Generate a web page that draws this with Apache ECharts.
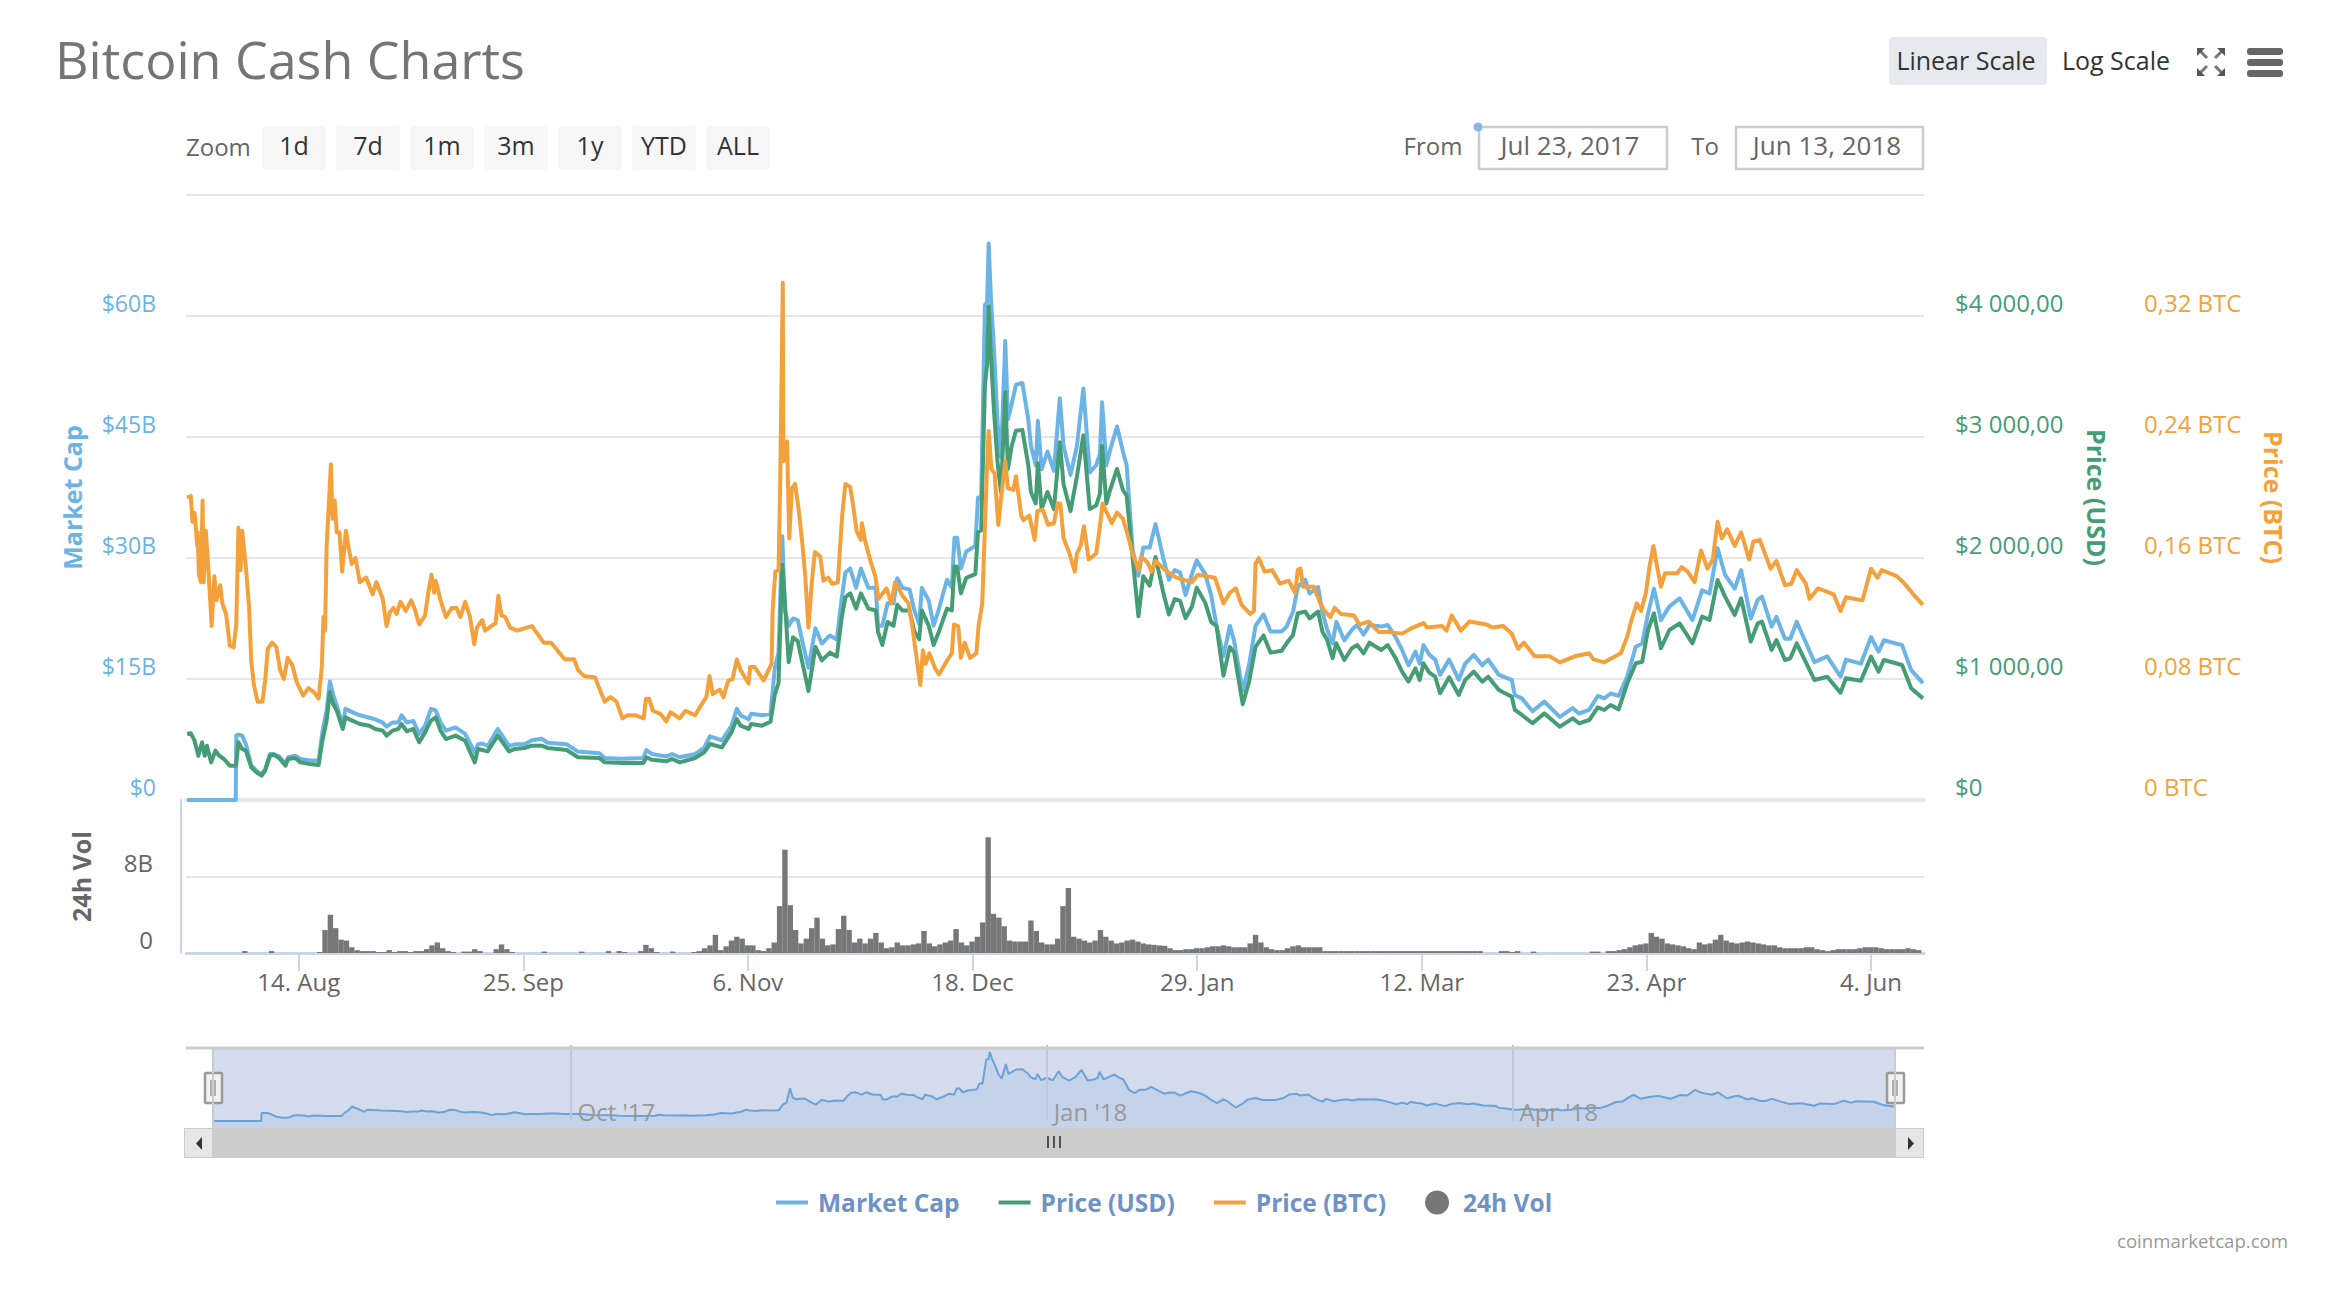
<!DOCTYPE html>
<html><head><meta charset="utf-8"><title>Bitcoin Cash Charts</title>
<style>html,body{margin:0;padding:0;background:#fff}#c{width:2340px;height:1300px}</style>
<script src="https://cdn.jsdelivr.net/npm/echarts@6/dist/echarts.min.js"></script></head>
<body><div id="c"></div>
<script>
const START = Date.UTC(2017,6,23,22);
const DAY = 86400000;
const SPAN_DAYS = 325;
const seriesNames = ['Market Cap','Price (USD)','Price (BTC)','24h Vol'];
const tickDates = ['2017-08-14','2017-09-25','2017-11-06','2017-12-18','2018-01-29','2018-03-12','2018-04-23','2018-06-04'];
const tickLabels = ['14. Aug','25. Sep','6. Nov','18. Dec','29. Jan','12. Mar','23. Apr','4. Jun'];
const navDates = ['2017-10-01','2018-01-01','2018-04-01'];
const navLabels = ["Oct '17","Jan '18","Apr '18"];
const zoomButtons = ['1d','7d','1m','3m','1y','YTD','ALL'];

// days since the left edge of the axis, shared by market cap and USD price
const capDays = [
.2,.9,1.6,2.3,3,3.5,3.9,4.7,5.5,6.2,
7.1,8.2,9.3,9.4,9.8,10.5,11.2,12.2,13.2,14.1,
14.8,15.7,16.4,17.4,18.6,19.1,20.4,21.4,23.2,24.8,
25.5,26.3,26.9,27.5,28.2,29.3,29.8,31.1,32.5,34.3,
35.4,36.8,37.5,38.6,39.7,40.3,41.3,42.5,43.6,44.7,
45.8,46.7,47.6,48.6,50.4,52.2,54,54.6,55.4,56.4,
58.3,60.4,61.5,63.3,64.7,66.5,67.6,71.2,73.3,77.3,
78.3,81.6,85.5,86.1,87.1,89.8,90.9,92.3,95.2,96.9,
98,100.2,102,103,103.7,105.2,105.7,107.7,109.3,110.1,
110.8,111.5,112,112.7,113.5,114.4,115.4,116.4,117.7,118.9,
120.4,121.7,122.6,123.3,124.2,125.3,126.2,127.6,129,129.4,
130.2,131.2,132.3,133,134,135.3,136.2,137.1,137.6,138.9,
139.8,140.8,142.3,143.2,143.7,144.2,144.9,145.9,147.6,148.1,
148.7,149.4,149.8,150.1,150.5,151.1,151.8,152.4,153.2,153.7,
154.4,155.2,156.4,157.5,158,158.9,159.3,160,161.1,162.3,
163.4,164.1,165.4,166.6,167.8,169,170.2,170.9,171.3,172.1,
172.8,174.1,175.2,175.9,177,178.1,179,180.2,181.3,182.7,
183.8,184.9,185.9,186.9,188.1,189,190.6,191.7,192.7,194,
195.2,196,197.6,198.8,200,201.5,202.8,204.9,205.8,207,
207.9,209.3,210.1,211.7,212.5,213.4,214.4,215.1,216.6,218,
219,220.2,221.3,223.5,224.7,226.2,227.4,228.6,229.9,230.7,
231.4,232.5,233.6,234.5,236.2,238,239.2,240.8,242.4,243.5,
245.5,247.9,248.5,249.8,251.8,254,256.9,259.3,260.5,262.4,
264,265.2,266.4,267.9,269.5,271.1,272.3,273.4,274.5,275.8,
277.4,279.3,281.7,283.5,284.9,286.4,287.8,289.6,290.8,292.6,
293.9,294.7,296.5,297.4,299,300,301.2,304.5,306.9,309.4,
310.4,313.2,315.1,316.5,317.5,320.9,322.6,324.8];
// market cap, billions of USD
const marketCap = [
0,0,0,0,0,0,0,0,0,0,
0,0,0,8,8.1,8,6.9,4.3,3.6,3.2,
3.8,5.7,5.7,5.4,4.5,5.3,5.5,5.1,4.9,4.9,
8.4,11.1,14.7,13.1,11.7,9.2,11.3,10.9,10.5,10.2,
10,9.6,9.1,9.6,9.6,10.5,9.6,9.8,8.2,9.2,
11.3,11.1,9.6,8.6,9,8.2,5.9,6.9,7,6.7,
8.8,6.7,6.9,6.9,7.4,7.6,7.1,6.9,6,5.8,
5.2,5.1,5.2,6.2,5.7,5.4,5.7,5.3,5.7,6.5,
7.9,7.4,9.2,11.3,10.5,10,10.7,10.5,10.7,16.3,
18.3,32.7,23.5,21.6,22.5,22.3,19.2,16.4,21.3,19.4,
20.4,19.9,24.9,28.2,28.7,26.3,28.7,26.3,26.3,21.6,
21.6,24.4,24.4,27.5,26.3,26.1,23.5,21.8,26.3,24.7,
21.6,23.7,27.3,26.3,32.5,32.5,28.7,30.8,31.5,37.5,
37.5,61.4,61.7,69,62.4,55.7,46.3,42.5,56.9,47.2,
49.1,51.5,51.7,47.2,43.9,41.5,47,41,43.2,40.8,
49.8,43.9,40.3,43.9,51,40.6,41.5,42.9,49.3,41.5,
43.4,46.3,43.2,41.5,31.1,27.8,31.3,31.3,34.2,30.1,
27.3,28.5,28.2,25.4,28,29.7,28,25.4,21.6,17.8,
21.6,19.7,13.5,16.8,21.6,23,20.9,20.9,21.5,23.3,
26.4,27.3,25.6,26.4,23.3,21.1,19.4,22.1,19.8,21.1,
21.7,20.5,21.7,21.5,21.7,20.2,18.6,16.7,18.4,16.9,
19.2,18,17.4,15.5,17.4,14.9,16.9,18,16.7,17.4,
15.5,14.9,13,12.6,11,12.2,10.3,11.4,10.7,11.2,
12.9,12.6,13.2,12.9,15.3,19,19.4,23.1,26.2,22.3,
24,25,22.3,26,25.6,31.2,27.9,26.2,28.5,22.5,
24.8,25.2,21.5,22.7,20,20,22.1,17.1,17.8,15.3,
17.4,16.9,20.2,18.4,19.8,19.2,16.1,14.5];
// price in USD
const priceUsd = [
545,551,490,366,477,366,449,311,408,366,
339,284,284,300,477,422,408,270,229,201,
242,366,375,347,284,339,347,311,298,289,
490,656,890,793,738,587,683,656,628,614,
587,573,532,573,587,628,568,587,477,559,
656,683,573,504,532,490,311,422,413,402,
532,402,422,430,449,449,430,413,353,347,
311,306,306,353,333,320,339,311,347,394,
463,435,559,669,614,587,628,614,648,870,
965,1945,1629,1139,1344,1313,1107,901,1265,1154,
1218,1186,1502,1676,1708,1582,1708,1582,1566,1392,
1281,1471,1439,1613,1566,1566,1392,1328,1566,1439,
1281,1392,1582,1566,1929,1929,1708,1835,1866,2214,
2230,3432,3600,4080,3685,3210,2768,2546,3369,2736,
2926,3052,3059,2768,2546,2451,2783,2404,2546,2404,
2957,2609,2388,2673,3014,2404,2435,2530,2926,2451,
2562,2736,2562,2515,2009,1518,1850,1771,2009,1724,
1534,1661,1645,1502,1597,1755,1629,1471,1439,1028,
1265,1218,791,980,1265,1360,1218,1234,1295,1364,
1543,1557,1501,1557,1391,1322,1171,1295,1157,1254,
1281,1212,1300,1240,1281,1171,1061,978,1088,992,
1130,1052,1019,882,1014,868,992,1061,978,1019,
909,854,744,703,634,716,606,675,634,661,
766,744,785,749,964,1130,1143,1405,1543,1254,
1405,1460,1295,1515,1488,1818,1681,1529,1667,1309,
1460,1474,1240,1322,1157,1171,1295,992,1019,887,
1006,986,1185,1061,1157,1116,923,840];
const btcDays = [
.2,.9,1.2,1.6,2.1,2.2,2.4,2.8,3.1,3.3,3.7,4.2,4.8,5.3,5.7,6.4,6.8,7.5,8.2,8.9,
9.4,9.8,10.2,10.5,11.2,11.8,12.2,12.7,13.4,14.3,14.8,15.3,16.1,16.9,17.6,18.3,19,19.9,20.7,21.9,
22.9,24,24.8,25.4,25.7,26,26.3,27.1,27.4,27.8,28.2,28.7,29.2,29.9,30.4,31,31.7,32.5,33.7,34.9,
35.6,36.8,37.5,38.1,38.8,39.4,40.1,41.1,42.1,42.7,43.6,44.7,45.3,45.9,46.4,46.7,47.6,48.6,49.7,50.6,
51.3,52.2,53.1,53.9,54.4,55.4,55.9,57.9,58.4,59,59.7,60.6,61.9,63.7,64.7,66.9,68.3,70.8,72.6,73.3,
74.4,76.5,77.6,78.3,79.4,80.5,81.6,82.6,84.1,85.6,86,86.6,87.3,88.7,89.8,90.6,92.3,93.4,95.2,96.2,
97.3,97.9,98.5,99.8,100.5,101.4,102.2,103,103.7,105.2,105.5,106.3,108,109.5,109.7,110.2,110.8,111.1,111.6,111.7,
112.4,112.8,113.3,113.9,114.6,115.3,115.8,116.4,117,117.6,118.6,119.2,120.1,120.8,121.9,122.2,122.7,123.3,124.2,124.7,
125.4,126.2,126.4,127,128,128.9,129.5,131,131.9,132.6,134,135.1,135.8,136.5,137.3,137.8,138.3,139,140.1,140.8,
142.3,143.2,143.6,144.4,144.9,145.6,146.6,147.8,148.2,148.9,149.4,149.8,150.1,150.6,151.2,151.9,152.4,153.2,153.7,154.7,
155.2,156.2,156.6,157.7,158.7,159.2,160.2,161.2,162.3,163,163.5,164.1,165.2,166.2,166.6,167.3,167.9,168.8,170.2,170.9,
171.4,173.1,174.1,175.2,176.1,177,178.1,178.6,179.8,180.6,181.3,183.1,185.2,188.1,189.2,192.4,194,195.2,196.3,197.4,
199,199.7,200,200.6,201.7,203.1,204.6,206.2,207.4,207.9,208.4,208.9,210.9,212.1,212.9,214,214.8,216,218.4,219.4,
221.1,223.1,225.1,227.4,229.4,231.4,232.1,234.9,235.7,236.7,238.4,240,243.2,244.3,246.3,247.9,249.1,250.2,252.2,255,
256.9,259.7,262.4,263.2,265.2,268.3,269.5,270.3,271.3,272.1,273,273.7,274.4,274.9,275.8,276.6,278.9,279.7,280.8,282.1,
283.3,284.5,285.5,286.4,287.2,288.2,289.6,290.8,292.3,293.1,294.3,296.3,297.4,299,300.2,301.2,302.9,303.6,305.2,308.1,
309.4,310.4,313.5,315.1,316.3,317.1,319.9,321.4,323,324.8];
const priceBtc = [
.2,.201,.184,.19,.168,.177,.149,.144,.198,.144,.178,.152,.115,.148,.132,.142,.13,.123,.102,.101,
.116,.18,.152,.178,.154,.127,.092,.076,.065,.065,.079,.1,.104,.101,.086,.08,.094,.089,.078,.069,
.074,.071,.067,.088,.121,.112,.168,.222,.186,.198,.177,.177,.151,.178,.167,.156,.16,.144,.147,.136,
.144,.133,.115,.124,.127,.123,.131,.125,.132,.127,.116,.122,.137,.149,.137,.145,.132,.121,.127,.127,
.121,.131,.121,.103,.114,.119,.112,.117,.135,.122,.121,.114,.112,.114,.115,.104,.104,.093,.093,.086,
.082,.081,.071,.065,.068,.065,.054,.056,.056,.054,.067,.067,.059,.057,.052,.058,.054,.059,.056,.062,
.068,.082,.07,.073,.068,.079,.08,.093,.086,.077,.088,.088,.079,.09,.125,.151,.152,.206,.342,.224,
.237,.173,.206,.209,.191,.168,.148,.114,.143,.164,.161,.145,.147,.143,.144,.161,.188,.209,.207,.196,
.178,.172,.183,.171,.158,.148,.133,.14,.13,.144,.135,.13,.115,.097,.076,.099,.09,.097,.087,.083,
.092,.097,.116,.115,.094,.104,.094,.097,.115,.13,.181,.221,.244,.219,.216,.182,.199,.224,.206,.205,
.214,.188,.185,.188,.172,.191,.192,.182,.183,.196,.196,.173,.163,.151,.163,.168,.181,.159,.163,.181,
.196,.183,.19,.186,.175,.163,.152,.161,.157,.151,.158,.152,.147,.144,.149,.147,.13,.137,.14,.129,
.123,.125,.156,.16,.151,.152,.143,.145,.137,.152,.153,.141,.141,.13,.125,.121,.127,.123,.122,.116,
.118,.111,.111,.11,.114,.117,.114,.115,.112,.122,.112,.118,.116,.114,.115,.11,.1,.104,.095,.095,
.091,.095,.097,.093,.091,.097,.108,.119,.13,.125,.137,.155,.168,.158,.141,.15,.15,.154,.151,.144,
.165,.153,.159,.184,.173,.179,.168,.177,.159,.171,.172,.153,.158,.142,.143,.152,.143,.133,.14,.136,
.125,.134,.132,.153,.147,.152,.148,.143,.136,.129];
// 24h volume, billions of USD, one value per day from the axis start
const volume = [
0,0,0,0,0,0,0,0,0,0,0,.2,0,0,0,0,.2,0,0,0,
0,0,0,0,0,.1,2.4,4,2.6,1.4,1.3,.6,.3,.2,.2,.2,.1,.1,.3,.1,
.2,.2,.1,.2,.2,.4,.8,1.1,.5,.2,.1,0,.15,.15,.4,.2,0,0,.4,.9,
.4,.1,0,0,0,0,0,.15,0,0,0,0,0,0,.15,0,0,0,0,.2,
0,.2,.1,0,0,.2,.85,.5,.1,0,0,.15,0,0,0,.1,.2,.5,.8,1.9,
.3,.7,1.3,1.7,1.5,.8,.8,.3,.2,.5,1.1,4.9,10.8,5,2.4,1,1.5,2.6,3.7,1.5,
.8,.9,2.5,3.9,2.4,1.1,1.5,1,1.5,2.1,1.1,.5,.6,1.1,.8,.8,.9,1,2.3,1,
.7,.9,1.1,1.3,2.5,1.1,.8,1.2,1.7,3.2,12.1,4.1,3.7,2.8,1.3,1.2,1.2,1.2,3.4,2.3,
1.1,.9,.9,1.5,4.9,6.8,1.7,1.5,1.3,1.1,1.3,2.4,1.7,1.3,1,1.1,1.3,1.4,1.2,1,
.9,.85,.8,.75,.5,.3,.3,.4,.4,.5,.5,.6,.7,.7,.8,.7,.6,.6,.6,1,
1.9,1.1,.6,.4,.3,.3,.5,.7,.8,.6,.6,.6,.6,.2,.2,.2,.2,.2,.2,.2,
.2,.2,.2,.2,.2,.2,.2,.2,.2,.2,.2,.2,.2,.2,.2,.2,.2,.2,.2,.2,
.2,.2,.2,0,0,0,.2,.2,.1,.2,0,0,.15,0,0,0,0,0,0,0,
0,0,0,.15,.15,0,.2,.2,.3,.4,.6,.8,.9,1,2.1,1.7,1.5,1,.9,.8,
.7,.5,.4,1.1,.9,1,1.4,1.9,1.3,1.1,1,1.1,1.2,1.1,1,.9,.8,.8,.6,.5,
.5,.5,.5,.6,.6,.4,.3,.2,.3,.4,.4,.4,.4,.5,.6,.6,.6,.5,.4,.4,
.4,.4,.5,.4,.3];

const zip = (days, vals) => vals.map((v, i) => [days[i], v]);
const toDay = s => (Date.parse(s + 'T00:00:00Z') - START) / DAY;
const tickValues = tickDates.map(toDay);
const navValues = navDates.map(toDay);
const labelAt = (vals, labels) => v => { const i = vals.findIndex(t => Math.abs(t - v) < 1e-6); return i < 0 ? '' : labels[i]; };
const C = {cap:'#6cb3e6', usd:'#459d76', btc:'#f4a13c', vol:'#777777', grid:'#e6e6e6', axis:'#ccd6eb'};
const FONT = '"Open Sans"';
const LINE_ICON = 'path://M0 0H32V4H0Z';
const fmtUsd = v => v === 0 ? '$0' : '$' + Math.round(v/1000) + ' 000,00';
const fmtBtc = v => v === 0 ? '0 BTC' : v.toFixed(2).replace('.', ',') + ' BTC';

function txt(text, x, y, size, fill, align, weight) {
  return {type:'text', x, y, z:20, style:{text, font:(weight||'normal')+' '+size+'px '+FONT, fill, align:align||'center', verticalAlign:'middle'}};
}
function box(x, y, w, h, fill, r, stroke, lw) {
  return {type:'rect', z:10, shape:{x, y, width:w, height:h, r:r||0}, style:{fill, stroke:stroke||null, lineWidth:lw||0}};
}
function seg(x1, y1, x2, y2, stroke, lw) {
  return {type:'line', z:15, shape:{x1, y1, x2, y2}, style:{stroke, lineWidth:lw}};
}
function poly(points, fill) {
  return {type:'polygon', z:15, shape:{points}, style:{fill}};
}
const chrome = [
  txt('Bitcoin Cash Charts', 55, 58, 52, '#757575', 'left'),
  txt('Zoom', 186, 146, 24, '#666666', 'left'),
  box(1889, 37, 158, 48, '#e6e9ee', 4),
  txt('Linear Scale', 1966, 60, 25, '#333333'),
  txt('Log Scale', 2116, 60, 25, '#333333'),
  box(2247, 48, 36, 7, '#666666', 3), box(2247, 59, 36, 7, '#666666', 3), box(2247, 70, 36, 7, '#666666', 3),
  seg(2198,49,2207,58,'#777',3), seg(2224,49,2215,58,'#777',3), seg(2198,75,2207,66,'#777',3), seg(2224,75,2215,66,'#777',3),
  poly([[2197,48],[2205,48],[2197,56]],'#555'), poly([[2225,48],[2217,48],[2225,56]],'#555'),
  poly([[2197,76],[2205,76],[2197,68]],'#555'), poly([[2225,76],[2217,76],[2225,68]],'#555'),
  txt('From', 1433, 145, 24, '#666666'),
  box(1479, 127, 188, 42, '#ffffff', 0, '#cccccc', 2.5),
  txt('Jul 23, 2017', 1570, 145, 26, '#666666'),
  txt('To', 1705, 145, 24, '#666666'),
  box(1736, 127, 187, 42, '#ffffff', 0, '#cccccc', 2.5),
  txt('Jun 13, 2018', 1827, 145, 26, '#666666'),
  {type:'circle', z:16, shape:{cx:1478, cy:127, r:4.5}, style:{fill:'#8ab4ef'}},
  txt('coinmarketcap.com', 2288, 1240, 18.6, '#999999', 'right'),
  // range selector chrome
  seg(186,1048,1924,1048,'#cccccc',3),
  seg(213,1049,213,1128,'#cccccc',2), seg(1895,1049,1895,1128,'#cccccc',2),
  box(184,1128,1740,30,'#cccccc'),
  box(185,1129,27,28,'#e6e6e6'), box(1896,1129,27,28,'#e6e6e6'),
  poly([[202,1137],[202,1150],[196,1143.5]],'#333333'), poly([[1908,1137],[1908,1150],[1914,1143.5]],'#333333'),
  seg(1048,1136,1048,1148,'#333333',1.6), seg(1054,1136,1054,1148,'#333333',1.6), seg(1060,1136,1060,1148,'#333333',1.6),
];
zoomButtons.forEach((label, i) => {
  const x = [262,336,410,484,558,632,706][i];
  chrome.push(box(x, 126, 64, 44, '#f7f7f7', 4));
  chrome.push(txt(label, x + 32, 145, 25, '#333333'));
});
[213, 1895].forEach(cx => {
  chrome.push(box(cx-8, 1073, 17, 30, '#f2f2f2', 1, '#999999', 2.5));
  chrome.push(seg(cx-2,1080,cx-2,1096,'#999999',1.5), seg(cx+2,1080,cx+2,1096,'#999999',1.5));
});

const chart = echarts.init(document.getElementById('c'), null, {renderer:'svg', width:2340, height:1300});
chart.setOption({
  animation:false,
  backgroundColor:'#ffffff',
  textStyle:{fontFamily:FONT},
  grid:[
    {left:186, top:195, width:1738, height:605},
    {left:186, top:800, width:1738, height:153},
    {left:213, top:1049, width:1682, height:79, show:true, backgroundColor:'#d4dbec', borderWidth:0},
  ],
  xAxis:[
    {type:'value', gridIndex:0, min:0, max:SPAN_DAYS, axisLabel:{show:false}, axisTick:{show:false}, splitLine:{show:false},
      axisLine:{show:true, lineStyle:{color:C.grid, width:4}}},
    {type:'value', gridIndex:1, min:0, max:SPAN_DAYS, splitLine:{show:false},
      axisLine:{show:true, lineStyle:{color:C.axis, width:3}},
      axisTick:{show:true, length:18, customValues:tickValues, lineStyle:{color:C.axis, width:2}},
      axisLabel:{show:true, customValues:tickValues, margin:16, color:'#666666', fontSize:24, fontFamily:FONT,
        formatter:labelAt(tickValues, tickLabels)}},
    {type:'value', gridIndex:2, min:0, max:SPAN_DAYS, z:10, splitLine:{show:false},
      axisLine:{show:false},
      axisTick:{show:true, inside:true, length:76, customValues:navValues, lineStyle:{color:'#bcc6dc', width:2}},
      axisLabel:{show:true, inside:true, customValues:navValues, margin:5, align:'left', color:'#999999', fontSize:24, fontFamily:FONT,
        padding:[0,0,0,7], formatter:labelAt(navValues, navLabels)}},
  ],
  yAxis:[
    {type:'value', gridIndex:0, min:0, max:75, interval:15, position:'left', name:'Market Cap', nameLocation:'middle', nameGap:102,
      nameTextStyle:{color:C.cap, fontWeight:'bold', fontSize:25, fontFamily:FONT},
      axisLine:{show:false}, axisTick:{show:false},
      splitLine:{show:true, lineStyle:{color:C.grid, width:2}},
      axisLabel:{color:C.cap, fontSize:23, margin:30, verticalAlign:'bottom', padding:[0,0,2,0], showMaxLabel:false, fontFamily:FONT,
        formatter:v => '$' + v + (v ? 'B' : '')}},
    {type:'value', gridIndex:0, min:0, max:5000, interval:1000, position:'right', name:'Price (USD)', nameLocation:'middle', nameGap:160, nameRotate:-90,
      nameTextStyle:{color:C.usd, fontWeight:'bold', fontSize:25, fontFamily:FONT},
      axisLine:{show:false}, axisTick:{show:false}, splitLine:{show:false},
      axisLabel:{color:C.usd, fontSize:24, margin:31, verticalAlign:'bottom', padding:[0,0,2,0], showMaxLabel:false, fontFamily:FONT, formatter:fmtUsd}},
    {type:'value', gridIndex:0, min:0, max:.4, interval:.08, position:'right', offset:189, name:'Price (BTC)', nameLocation:'middle', nameGap:148, nameRotate:-90,
      nameTextStyle:{color:C.btc, fontWeight:'bold', fontSize:25, fontFamily:FONT},
      axisLine:{show:false}, axisTick:{show:false}, splitLine:{show:false},
      axisLabel:{color:C.btc, fontSize:24, margin:31, verticalAlign:'bottom', padding:[0,0,2,0], showMaxLabel:false, fontFamily:FONT, formatter:fmtBtc}},
    {type:'value', gridIndex:1, min:0, max:16, interval:8, position:'left', offset:5, name:'24h Vol', nameLocation:'middle', nameGap:88,
      nameTextStyle:{color:'#666666', fontWeight:'bold', fontSize:25, fontFamily:FONT},
      axisLine:{show:true, onZero:false, lineStyle:{color:C.axis, width:2}}, axisTick:{show:false},
      splitLine:{show:true, lineStyle:{color:C.grid, width:2}},
      axisLabel:{color:'#666666', fontSize:24, margin:28, verticalAlign:'bottom', padding:[0,0,2,0], showMaxLabel:false, fontFamily:FONT,
        formatter:v => v ? v + 'B' : '0'}},
    {type:'value', gridIndex:2, min:-7, max:72, show:false},
  ],
  legend:{
    left:771, top:1185, itemWidth:32, itemHeight:24, itemGap:39,
    selectedMode:false,
    textStyle:{color:'#6f92c6', fontWeight:'bold', fontSize:24.5, fontFamily:FONT, padding:[0,0,0,5]},
    data:[{name:seriesNames[0], icon:LINE_ICON},{name:seriesNames[1], icon:LINE_ICON},{name:seriesNames[2], icon:LINE_ICON},{name:seriesNames[3], icon:'circle'}],
  },
  series:[
    {name:seriesNames[0], type:'line', xAxisIndex:0, yAxisIndex:0, data:zip(capDays, marketCap), symbol:'none', clip:false, z:3, itemStyle:{color:C.cap}, lineStyle:{color:C.cap, width:4, join:'round'}},
    {name:seriesNames[1], type:'line', xAxisIndex:0, yAxisIndex:1, data:zip(capDays, priceUsd), symbol:'none', z:4, itemStyle:{color:C.usd}, lineStyle:{color:C.usd, width:4, join:'round'}},
    {name:seriesNames[2], type:'line', xAxisIndex:0, yAxisIndex:2, data:zip(btcDays, priceBtc), symbol:'none', z:5, itemStyle:{color:C.btc}, lineStyle:{color:C.btc, width:4, join:'round'}},
    {name:seriesNames[3], type:'bar', xAxisIndex:1, yAxisIndex:3, data:volume.map((v,i)=>[i, v]), barWidth:5.4, itemStyle:{color:C.vol}, z:3},
    {name:'Navigator', type:'line', xAxisIndex:2, yAxisIndex:4, data:zip(capDays, marketCap), symbol:'none', z:1, lineStyle:{color:'#6ba2d8', width:2}, itemStyle:{color:'#6ba2d8'}, areaStyle:{color:'#c5d3ea', opacity:1, origin:'start'}},
  ],
  graphic:{elements:chrome},
});
</script></body></html>
